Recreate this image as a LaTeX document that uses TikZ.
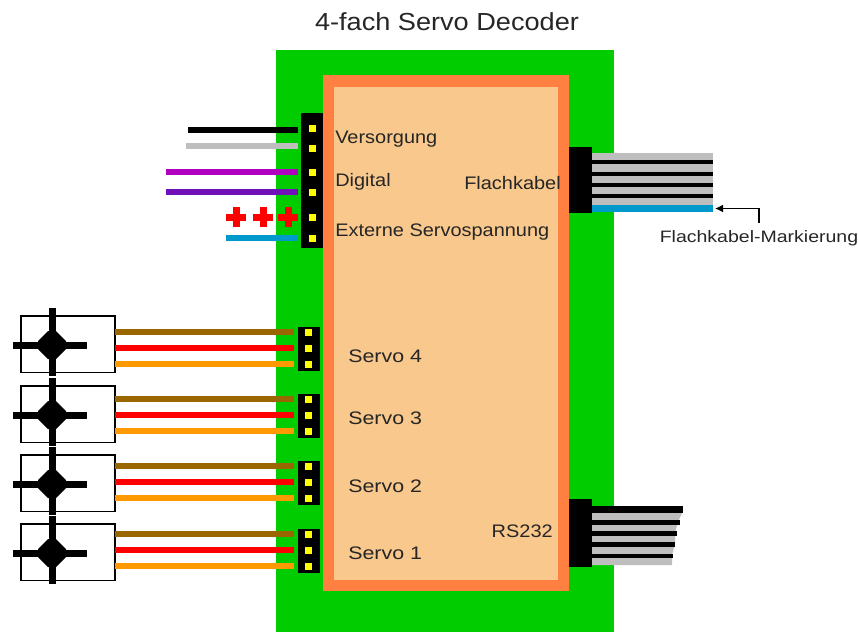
\documentclass[tikz,border=0pt]{standalone}
\usepackage{fontspec}
\usetikzlibrary{arrows.meta}
\setmainfont{Liberation Sans}
\newfontfamily\stA[FakeStretch=1.10]{Liberation Sans}
\newfontfamily\stB[FakeStretch=1.18]{Liberation Sans}
\definecolor{board}{HTML}{00CC00}
\definecolor{chipedge}{HTML}{FF8040}
\definecolor{chipfill}{HTML}{F9C88C}
\definecolor{wgrey}{HTML}{BEBEBE}
\definecolor{wblue}{HTML}{0099CC}
\definecolor{wbrown}{HTML}{996600}
\definecolor{worange}{HTML}{FF9900}
\definecolor{wmag}{HTML}{B000C0}
\definecolor{wpur}{HTML}{7010B8}
\definecolor{pin}{HTML}{FFFF00}
\tikzset{
  x=0.75pt,y=-0.75pt,
  lbl/.style={inner sep=0pt,anchor=west,font=\stA\fontsize{13.6pt}{15pt}\selectfont,text=black!85},
  slbl/.style={inner sep=0pt,anchor=west,font=\stB\fontsize{13.6pt}{15pt}\selectfont,text=black!85},
  pinmark/.style={fill=pin,minimum size=5.25pt,inner sep=0pt,draw=none,rectangle},
  wire/.style={line width=5pt,line cap=butt},
}
\begin{document}
\begin{tikzpicture}
\useasboundingbox (0,0) rectangle (858,632);
% board and chip
\fill[board] (276,50) rectangle (614,632);
\fill[chipedge] (323,75) rectangle (569,591);
\fill[chipfill] (334,87) rectangle (558,580);
\node[inner sep=0pt,font=\stA\fontsize{18.5pt}{20pt}\selectfont,text=black!85] (title) at (447,22) {4-fach Servo Decoder};
% power header
\fill[black] (301,113) rectangle (323,248);
\foreach \y in {128,148,172,192,217,238} \node[pinmark] at (312,\y) {};
\draw[wire,black] (188,130) -- (298,130);
\draw[wire,wgrey] (186,146) -- (298,146);
\draw[wire,wmag] (166,172) -- (298,172);
\draw[wire,wpur] (166,192) -- (298,192);
\draw[wire,wblue] (226,238) -- (298,238);
\foreach \x in {236,263,288} {
  \fill[red] (\x-10,213.5) rectangle (\x+10,220.5);
  \fill[red] (\x-3.5,207) rectangle (\x+3.5,227);
}
\node[lbl] (versorgung) at (335,139) {Versorgung};
\node[lbl] (digital) at (335,182) {Digital};
\node[lbl] (extern) at (335,232) {Externe Servospannung};
\node[lbl,anchor=east] (flachlbl) at (561,183) {Flachkabel};
% flat cable
\fill[wgrey] (592,153) rectangle (713,205);
\foreach \y in {162,173.5,185,196} \fill[black] (592,\y-2) rectangle (713,\y+2);
\fill[wblue] (592,205) rectangle (713,212);
\fill[black] (569,147) rectangle (592,213);
\node[inner sep=0pt,font=\stB\fontsize{12.4pt}{14pt}\selectfont,text=black!85] (marklbl) at (759,238) {Flachkabel-Markierung};
\coordinate (markup) at (759,223);
\coordinate (marktip) at (715,208.5);
\draw[line width=1.2pt,-{Latex[length=6pt,width=6pt]}] (markup) |- (marktip);
% servos
\foreach \t/\w in {316/332,386/399,455/466,524/534} {
  \draw[line width=1.2pt] (21,\t) rectangle (115,\t+56.5);
  \fill[black] (48.5,\t-8) rectangle (55.5,\t+60);
  \fill[black] (13,\t+25.5) rectangle (87,\t+32.5);
  \fill[black] (38,\t+25) -- (48,\t+15) -- (56,\t+15) -- (66,\t+25) -- (66,\t+33) -- (56,\t+43) -- (48,\t+43) -- (38,\t+33) -- cycle;
  \draw[wire,wbrown] (115,\w) -- (294,\w);
  \draw[wire,red] (115,\w+16) -- (294,\w+16);
  \draw[wire,worange] (115,\w+32) -- (294,\w+32);
  \fill[black] (298,\w-5) rectangle (320,\w+39);
  \foreach \d in {0,16,32} \node[pinmark] at (308,\w+\d) {};
}
\node[slbl] (s4) at (348,356) {Servo 4};
\node[slbl] (s3) at (348,418) {Servo 3};
\node[slbl] (s2) at (348,486) {Servo 2};
\node[slbl] (s1) at (348,553) {Servo 1};
\node[lbl,anchor=east] (rs) at (553,531) {RS232};
% RS232 cable
\fill[wgrey] (592,513) -- (682,513) -- (678,522) -- (675,533) -- (675,544) -- (672,555) -- (672,565) -- (592,565) -- cycle;
\fill[black] (592,505.5) rectangle (683,513);
\fill[black] (592,520) rectangle (680,525);
\fill[black] (592,531) rectangle (677,535.5);
\fill[black] (592,542) rectangle (675,546.5);
\fill[black] (592,553.5) rectangle (673,558);
\fill[black] (569,499) rectangle (592,567);
\end{tikzpicture}
\end{document}
